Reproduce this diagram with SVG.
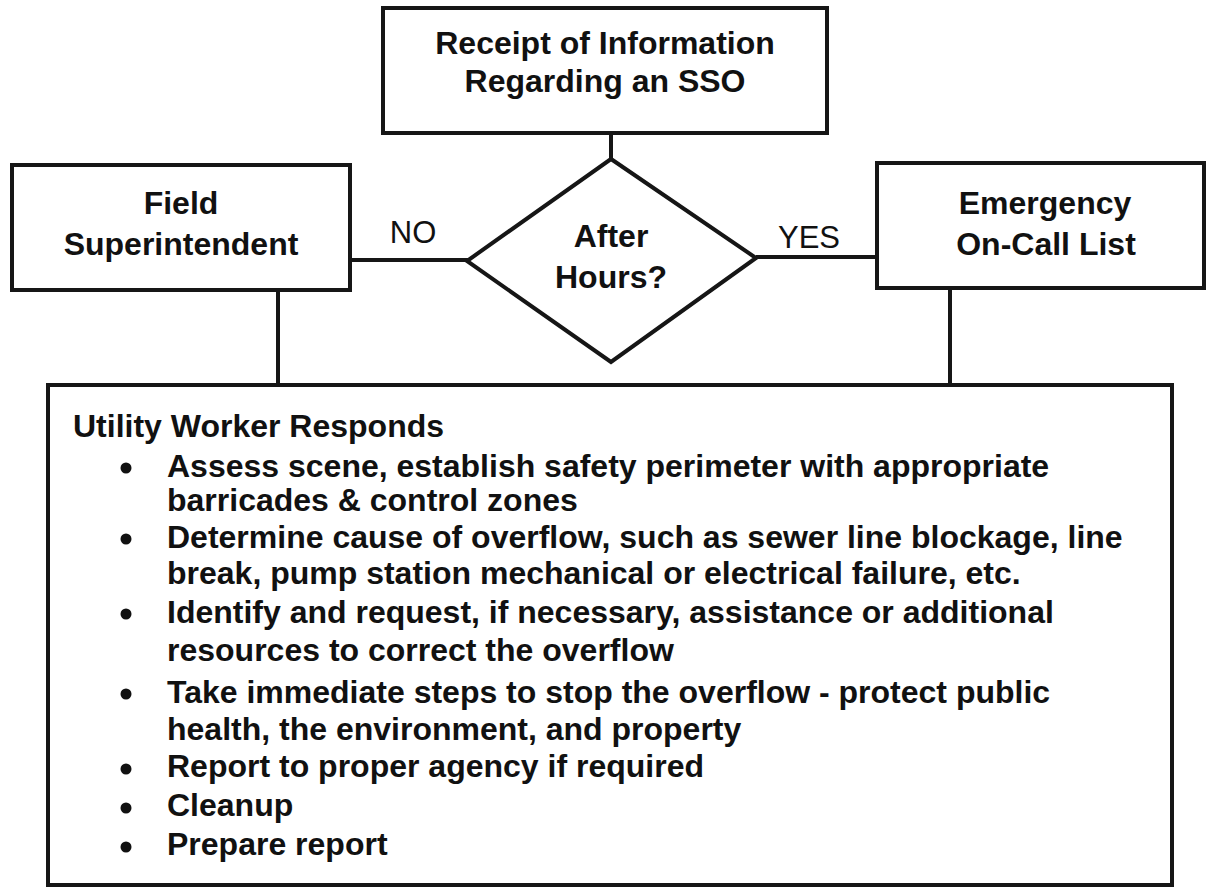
<svg xmlns="http://www.w3.org/2000/svg" width="1206" height="888" viewBox="0 0 1206 888">
<style>
.box{fill:#fff;stroke:#161616;stroke-width:4}
.ln{stroke:#161616;stroke-width:4;fill:none}
.t{font-family:"Liberation Sans",Arial,sans-serif;font-size:32px;font-weight:bold;fill:#111}
.c{text-anchor:middle}
.lbl{font-family:"Liberation Sans",Arial,sans-serif;font-size:31px;fill:#111;text-anchor:middle}
.b{fill:#111}
</style>
<rect width="1206" height="888" fill="#fff"/>
<g id="connectors">
<line class="ln" x1="611" y1="133" x2="611" y2="160"/>
<line class="ln" x1="350" y1="260" x2="468" y2="260"/>
<line class="ln" x1="756" y1="257" x2="877" y2="257"/>
<line class="ln" x1="278" y1="290" x2="278" y2="385"/>
<line class="ln" x1="950" y1="288" x2="950" y2="385"/>
<text class="lbl" x="413" y="243">NO</text>
<text class="lbl" x="809" y="248">YES</text>
</g>
<g id="receipt">
<rect class="box" x="383" y="8" width="444" height="125"/>
<text class="t c" x="605" y="54">Receipt of Information</text>
<text class="t c" x="605" y="92">Regarding an SSO</text>
</g>
<g id="decision">
<polygon class="box" points="611,159 756,258 611,362 467,261"/>
<text class="t c" x="611" y="247">After</text>
<text class="t c" x="611" y="288">Hours?</text>
</g>
<g id="field">
<rect class="box" x="12" y="165" width="338" height="125"/>
<text class="t c" x="181" y="214">Field</text>
<text class="t c" x="181" y="255">Superintendent</text>
</g>
<g id="emergency">
<rect class="box" x="877" y="163" width="327" height="125"/>
<text class="t c" x="1045" y="214">Emergency</text>
<text class="t c" x="1046" y="255">On-Call List</text>
</g>
<g id="responds">
<rect class="box" x="48" y="385" width="1124" height="500"/>
<text class="t" x="73" y="437">Utility Worker Responds</text>
<circle class="b" cx="126" cy="468" r="5.5"/>
<text class="t" x="167" y="477">Assess scene, establish safety perimeter with appropriate</text>
<text class="t" x="167" y="511">barricades &amp; control zones</text>
<circle class="b" cx="126" cy="539" r="5.5"/>
<text class="t" x="167" y="548">Determine cause of overflow, such as sewer line blockage, line</text>
<text class="t" x="167" y="584">break, pump station mechanical or electrical failure, etc.</text>
<circle class="b" cx="126" cy="614" r="5.5"/>
<text class="t" x="167" y="623">Identify and request, if necessary, assistance or additional</text>
<text class="t" x="167" y="661">resources to correct the overflow</text>
<circle class="b" cx="126" cy="694" r="5.5"/>
<text class="t" x="167" y="703">Take immediate steps to stop the overflow - protect public</text>
<text class="t" x="167" y="740">health, the environment, and property</text>
<circle class="b" cx="126" cy="769" r="5.5"/>
<text class="t" x="167" y="777">Report to proper agency if required</text>
<circle class="b" cx="126" cy="808" r="5.5"/>
<text class="t" x="167" y="816">Cleanup</text>
<circle class="b" cx="126" cy="847" r="5.5"/>
<text class="t" x="167" y="855">Prepare report</text>
</g>
</svg>
